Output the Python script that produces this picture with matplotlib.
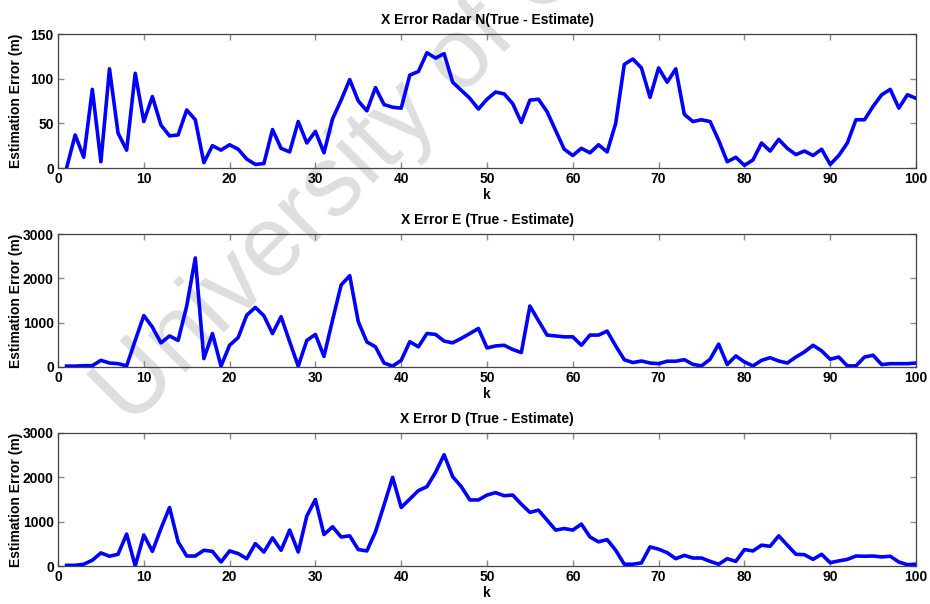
import matplotlib
matplotlib.use('Agg')
import matplotlib.pyplot as plt
import numpy as np

plt.rcParams['font.family'] = ['Liberation Sans', 'DejaVu Sans']

k = np.arange(1, 101)

err_n = [0, 37, 12, 88, 7, 111, 39, 20, 106, 52,
         80, 48, 36, 37, 65, 54, 6, 25, 20, 26,
         21, 10, 4, 5, 43, 22, 18, 52, 28, 41,
         17, 55, 76, 99, 75, 64, 90, 71, 68, 67,
         104, 108, 129, 123, 128, 96, 87, 78, 66, 77,
         85, 83, 72, 51, 76, 77, 63, 42, 21, 14,
         22, 17, 26, 18, 50, 116, 122, 112, 79, 112,
         96, 111, 60, 52, 54, 52, 31, 7, 12, 3,
         9, 28, 19, 32, 22, 15, 19, 14, 21, 4,
         14, 28, 54, 54, 69, 82, 88, 67, 82, 78]

err_e = [20, 20, 30, 30, 150, 90, 75, 25, 600, 1160,
         900, 545, 700, 600, 1375, 2460, 190, 755, 20, 490,
         665, 1170, 1345, 1155, 755, 1135, 570, 20, 600, 735,
         240, 1060, 1850, 2060, 1020, 565, 455, 90, 20, 150,
         570, 455, 755, 735, 585, 545, 645, 755, 870, 430,
         475, 490, 395, 325, 1375, 1045, 720, 700, 680, 680,
         490, 720, 720, 810, 475, 165, 100, 135, 90, 75,
         130, 130, 165, 60, 25, 175, 515, 55, 250, 115,
         25, 150, 210, 135, 90, 225, 340, 490, 365, 175,
         225, 25, 25, 225, 265, 55, 75, 75, 75, 90]

err_d = [15, 15, 40, 130, 295, 220, 265, 720, 0, 700,
         330, 845, 1320, 545, 225, 225, 355, 330, 90, 340,
         280, 165, 505, 315, 635, 355, 810, 315, 1130, 1500,
         710, 885, 655, 680, 370, 340, 770, 1375, 2000, 1320,
         1510, 1700, 1790, 2110, 2510, 2015, 1790, 1490, 1490, 1600,
         1655, 1585, 1600, 1395, 1210, 1260, 1035, 810, 845, 810,
         945, 655, 545, 595, 355, 40, 40, 70, 430, 380,
         300, 165, 240, 180, 180, 105, 40, 165, 105, 370,
         340, 470, 445, 680, 470, 265, 255, 150, 265, 75,
         115, 150, 225, 220, 225, 205, 220, 90, 30, 40]

titles = ['X Error Radar N(True - Estimate)',
          'X Error E (True - Estimate)',
          'X Error D (True - Estimate)']
series = [err_n, err_e, err_d]
ylims = [150, 3000, 3000]
yticks = [[0, 50, 100, 150], [0, 1000, 2000, 3000], [0, 1000, 2000, 3000]]

W, H = 930, 604
fig = plt.figure(figsize=(W / 100, H / 100), dpi=100)

# axes boxes in pixels: top, bottom
boxes = [(34, 168), (234, 367), (433, 566)]
left, right = 58, 916

for i in range(3):
    top, bot = boxes[i]
    ax = fig.add_axes([left / W, 1 - bot / H, (right - left) / W, (bot - top) / H])
    ax.set_facecolor('none')
    ax.plot(k, series[i], color='#0000ff', lw=2.6, zorder=3)
    ax.set_xlim(0, 100)
    ax.set_ylim(0, ylims[i])
    ax.set_xticks(np.arange(0, 101, 10))
    ax.set_yticks(yticks[i])
    ax.tick_params(direction='in', top=True, right=True, length=4, width=1,
                   color='#888888', labelsize=10, pad=3)
    for lab in ax.get_xticklabels() + ax.get_yticklabels():
        lab.set_fontweight('bold')
    for sp in ax.spines.values():
        sp.set_color('#444444')
        sp.set_linewidth(0.9)
    ax.set_title(titles[i], fontsize=10, fontweight='bold', pad=7)
    ax.set_xlabel('k', fontsize=10, fontweight='bold', labelpad=1)
    ax.set_ylabel('Estimation Error (m)', fontsize=10, fontweight='bold')
    ax.yaxis.set_label_coords(-35 / (right - left), 0.5)

# watermark
fig.text(130 / W, 1 - 428 / H, 'University of Cape Town', fontsize=72,
         color='#dedede', rotation=45, rotation_mode='anchor',
         ha='left', va='baseline', zorder=-1)

fig.savefig('out.png', dpi=100)
